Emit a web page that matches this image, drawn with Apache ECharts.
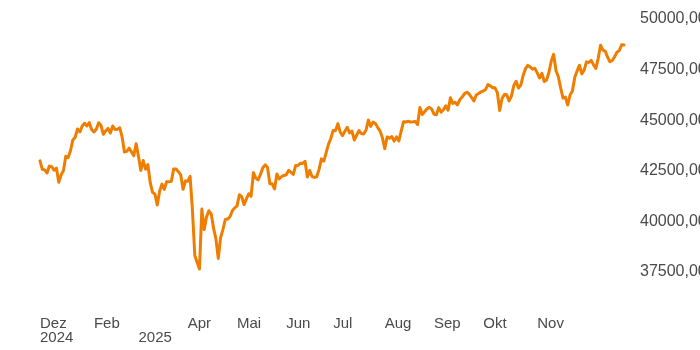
<!DOCTYPE html>
<html>
<head>
<meta charset="utf-8">
<script src="https://cdn.jsdelivr.net/npm/echarts@6/dist/echarts.min.js"></script>
<style>
  html, body { margin: 0; padding: 0; background: #fff; }
  #chart { width: 700px; height: 350px; }
</style>
</head>
<body>
<div id="chart"></div>
<script>
// Daily closes, trading days from late Dec 2024 to late Dec 2025
const values = [
  42992, 42573, 42544, 42392, 42732, 42706, 42528, 42635, 41938, 42297,
  42518, 43221, 43153, 43488, 44025, 44157, 44565, 44424, 44714, 44850,
  44713, 44882, 44545, 44422, 44556, 44873, 44748, 44303, 44471, 44594,
  44369, 44712, 44546, 44556, 44628, 44177, 43428, 43461, 43621, 43434,
  43240, 43841, 43191, 42521, 43006, 42579, 42802, 41912, 41433, 41350,
  40814, 41488, 41842, 41581, 41965, 41953, 41985, 42583, 42588, 42455,
  42300, 41584, 42002, 41989, 42226, 40546, 38315, 37966, 37646, 40608,
  39594, 40213, 40525, 40369, 39669, 39142, 38170, 39187, 39607, 40093,
  40114, 40228, 40528, 40669, 40753, 41317, 41219, 40829, 41114, 41368,
  41249, 42410, 42141, 42051, 42323, 42655, 42792, 42677, 41860, 41859,
  41603, 42343, 42098, 42216, 42270, 42305, 42520, 42428, 42319, 42763,
  42762, 42867, 42866, 42968, 42198, 42516, 42215, 42172, 42207, 42582,
  43089, 42982, 43387, 43819, 44095, 44495, 44484, 44829, 44406, 44241,
  44458, 44651, 44372, 44460, 44023, 44255, 44484, 44342, 44323, 44502,
  45010, 44694, 44902, 44838, 44633, 44461, 44131, 43589, 44174, 44112,
  44193, 43969, 44176, 43975, 44459, 44922, 44911, 44946, 44912, 44922,
  44938, 44786, 45632, 45282, 45418, 45565, 45637, 45545, 45296, 45271,
  45621, 45401, 45515, 45711, 45490, 46108, 45834, 45883, 45758, 46018,
  46142, 46315, 46382, 46292, 46121, 45947, 46247, 46316, 46398, 46441,
  46520, 46758, 46695, 46603, 46602, 46358, 45480, 46068, 46270, 46253,
  45952, 46191, 46707, 46925, 46590, 46735, 47207, 47545, 47706, 47632,
  47522, 47563, 47337, 47085, 47311, 46912, 46987, 47368, 47928, 48254,
  47457, 47147, 46590, 46092, 46139, 45752, 46245, 46448, 47112, 47427,
  47716, 47289, 47474, 47883, 47851, 47955, 47739, 47560, 48058, 48704,
  48458, 48416, 48114, 47886, 47952, 48135, 48362, 48442, 48731, 48711
];

// Month tick labels and the trading-day index where each month starts
const tickIndex  = [0, 23, 42, 63, 84, 105, 125, 147, 168, 189, 212];
const tickLabels = ['Dez\n2024', 'Feb', '\n2025', 'Apr', 'Mai', 'Jun', 'Jul', 'Aug', 'Sep', 'Okt', 'Nov'];

// Y axis ticks
const yMin = 37500, yMax = 50000, yStep = 2500;

const categories = values.map((_, i) => String(i));

const chart = echarts.init(document.getElementById('chart'), null, { renderer: 'canvas' });
chart.setOption({
  animation: false,
  backgroundColor: '#ffffff',
  grid: { left: 40, right: 76, top: 19, bottom: 78, containLabel: false, outerBoundsMode: 'none' },
  xAxis: {
    type: 'category',
    data: categories,
    boundaryGap: false,
    axisLine: { show: false },
    axisTick: { show: false },
    splitLine: { show: false },
    axisLabel: {
      interval: (idx) => tickIndex.includes(idx),
      formatter: (val, idx) => {
        const k = tickIndex.indexOf(Number(val));
        return k >= 0 ? tickLabels[k] : '';
      },
      align: 'left',
      margin: 45,
      color: '#4a4a4a',
      fontFamily: "'Liberation Sans', Arial, sans-serif",
      fontSize: 15,
      lineHeight: 14,
      showMinLabel: true,
      showMaxLabel: true,
      hideOverlap: false
    }
  },
  yAxis: {
    type: 'value',
    position: 'right',
    min: yMin,
    max: yMax,
    interval: yStep,
    axisLine: { show: false },
    axisTick: { show: false },
    splitLine: { show: false },
    axisLabel: {
      margin: 16,
      align: 'left',
      color: '#4a4a4a',
      fontFamily: "'Liberation Sans', Arial, sans-serif",
      fontSize: 16,
      formatter: (v) => v.toFixed(2).replace('.', ',')
    }
  },
  series: [{
    type: 'line',
    data: values,
    showSymbol: false,
    symbol: 'none',
    lineStyle: { color: '#ef7d00', width: 3, join: 'round', cap: 'round' },
    itemStyle: { color: '#ef7d00' }
  }]
});
</script>
</body>
</html>
